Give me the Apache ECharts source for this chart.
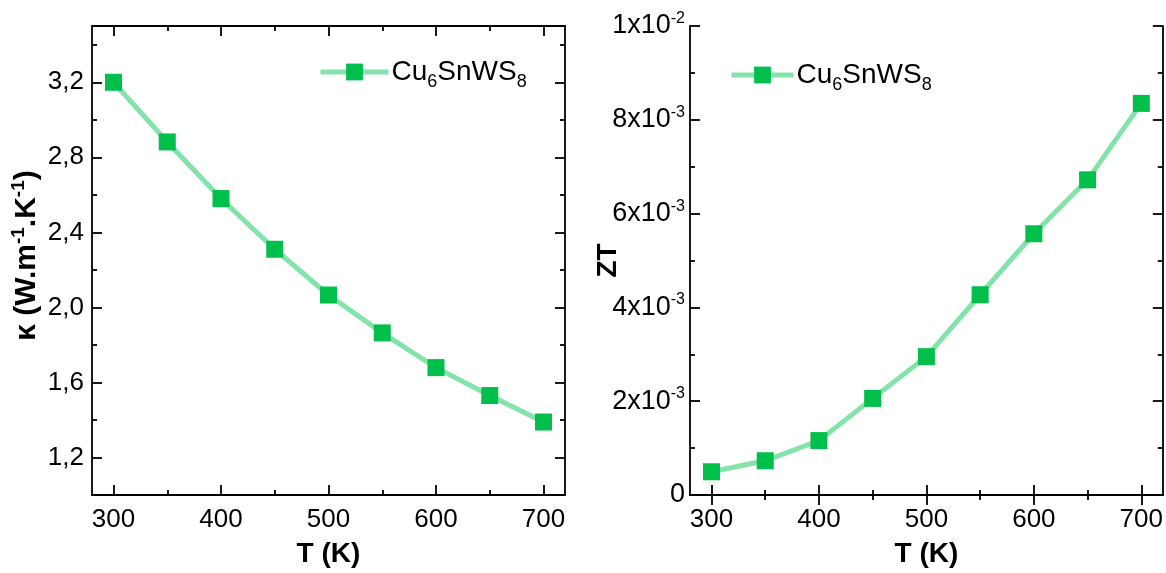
<!DOCTYPE html>
<html>
<head>
<meta charset="utf-8">
<script src="https://cdn.jsdelivr.net/npm/echarts@6/dist/echarts.min.js"></script>
<style>html,body{margin:0;padding:0;background:#fff}#c{width:1166px;height:573px}</style>
</head>
<body>
<div id="c"></div>
<script>
// ---- data ----
const temperatures = [300, 350, 400, 450, 500, 550, 600, 650, 700];
const kappaValues = [3.20, 2.882, 2.58, 2.31, 2.066, 1.864, 1.679, 1.530, 1.389];
const ztValues = [0.000495, 0.00073, 0.00116, 0.00206, 0.00295, 0.00427, 0.00557, 0.00672, 0.00835];
const seriesName = 'Cu6SnWS8';
const xMajorTicks = [300, 400, 500, 600, 700];
const xMinorTicks = [350, 450, 550, 650];
const kappaMajorTicks = [1.2, 1.6, 2.0, 2.4, 2.8, 3.2];
const kappaMinorTicks = [1.4, 1.8, 2.2, 2.6, 3.0, 3.4];
const ztMajorTicks = [0, 0.002, 0.004, 0.006, 0.008, 0.01];
const ztMinorTicks = [0.001, 0.003, 0.005, 0.007, 0.009];

const FONT = '"Liberation Sans", Arial, sans-serif';
const markerColor = '#00bf4b';
const lineColor = '#84e3aa';
const frameW = 1.8;
const TICK_FS = 26;

function fmtKappa(v) { return v.toFixed(1).replace('.', ','); }
function fmtZT(v) {
  if (Math.abs(v) < 1e-12) return '{n|0}';
  const e = Math.floor(Math.log10(v) + 1e-9);
  const m = Math.round(v / Math.pow(10, e));
  return '{n|' + m + 'x10}{sup|' + e + '}';
}

const labelRich = {
  n: { fontFamily: FONT, fontSize: 27, color: '#000' },
  sup: { fontFamily: FONT, fontSize: 16, color: '#000', padding: [0, 0, 15, 0] }
};

function xAxes(grid) {
  const base = { type: 'value', gridIndex: grid, min: 280, max: 720, splitLine: { show: false } };
  return [
    Object.assign({}, base, {
      position: 'bottom',
      axisLine: { show: true, lineStyle: { color: '#000', width: frameW } },
      axisTick: { show: true, inside: true, length: 10, customValues: xMajorTicks, lineStyle: { color: '#000', width: frameW } },
      axisLabel: { show: true, customValues: xMajorTicks, margin: 12, fontFamily: FONT, fontSize: TICK_FS, color: '#000' },
      name: 'T (K)', nameLocation: 'middle', nameGap: 45,
      nameTextStyle: { fontFamily: FONT, fontSize: 28, fontWeight: 'bold', color: '#000' }
    }),
    Object.assign({}, base, {
      position: 'bottom',
      axisLine: { show: false },
      axisTick: { show: true, inside: true, length: 5, customValues: xMinorTicks, lineStyle: { color: '#000', width: frameW } },
      axisLabel: { show: false }
    }),
    Object.assign({}, base, {
      position: 'top',
      axisLine: { show: true, lineStyle: { color: '#000', width: frameW } },
      axisTick: { show: true, inside: true, length: 10, customValues: xMajorTicks, lineStyle: { color: '#000', width: frameW } },
      axisLabel: { show: false }
    }),
    Object.assign({}, base, {
      position: 'top',
      axisLine: { show: false },
      axisTick: { show: true, inside: true, length: 5, customValues: xMinorTicks, lineStyle: { color: '#000', width: frameW } },
      axisLabel: { show: false }
    })
  ];
}

function yAxes(grid, min, max, major, minor, labelCfg, nameCfg) {
  const base = { type: 'value', gridIndex: grid, min: min, max: max, splitLine: { show: false } };
  return [
    Object.assign({}, base, {
      position: 'left',
      axisLine: { show: true, lineStyle: { color: '#000', width: frameW } },
      axisTick: { show: true, inside: true, length: 10, customValues: major, lineStyle: { color: '#000', width: frameW } },
      axisLabel: Object.assign({ show: true, customValues: major }, labelCfg)
    }, nameCfg),
    Object.assign({}, base, {
      position: 'left',
      axisLine: { show: false },
      axisTick: { show: true, inside: true, length: 5, customValues: minor, lineStyle: { color: '#000', width: frameW } },
      axisLabel: { show: false }
    }),
    Object.assign({}, base, {
      position: 'right',
      axisLine: { show: true, lineStyle: { color: '#000', width: frameW } },
      axisTick: { show: true, inside: true, length: 10, customValues: major, lineStyle: { color: '#000', width: frameW } },
      axisLabel: { show: false }
    }),
    Object.assign({}, base, {
      position: 'right',
      axisLine: { show: false },
      axisTick: { show: true, inside: true, length: 5, customValues: minor, lineStyle: { color: '#000', width: frameW } },
      axisLabel: { show: false }
    })
  ];
}

const legendRich = {
  a: { fontFamily: FONT, fontSize: 28, color: '#000' },
  s: { fontFamily: FONT, fontSize: 18, color: '#000', padding: [20, 0, 0, 0] }
};
function legendFmt(name) { return '{a|Cu}{s|6}{a|SnWS}{s|8}'; }

const chart = echarts.init(document.getElementById('c'), null, { renderer: 'canvas' });
const option = {
  animation: false,
  backgroundColor: '#fff',
  grid: [
    { left: 92, right: 601, top: 26, bottom: 77, containLabel: false },
    { left: 690, right: 3, top: 26, bottom: 77, containLabel: false }
  ],
  legend: [
    { left: 313, top: 53, itemWidth: 68, itemHeight: 21, itemGap: 0, data: [seriesName], formatter: legendFmt,
      lineStyle: { width: 5 }, textStyle: { rich: legendRich, padding: [0, 0, 0, -2] }, selectedMode: false },
    { left: 724, top: 56, itemWidth: 62, itemHeight: 21, itemGap: 0, data: [seriesName], formatter: legendFmt,
      lineStyle: { width: 5 }, textStyle: { rich: legendRich, padding: [0, 0, 0, -2] }, selectedMode: false }
  ],
  xAxis: xAxes(0).concat(xAxes(1)),
  yAxis: yAxes(0, 1.0, 3.5, kappaMajorTicks, kappaMinorTicks,
      { margin: 8, fontFamily: FONT, fontSize: TICK_FS, color: '#000', formatter: fmtKappa },
      { name: '{b|κ (W.m}{sp|-1}{b|.K}{sp|-1}{b|)}', nameLocation: 'middle', nameGap: 48,
        nameTextStyle: { padding: [0, 0, 0, 10], rich: {
          b: { fontFamily: FONT, fontSize: 30, fontWeight: 'bold', color: '#000' },
          sp: { fontFamily: FONT, fontSize: 19, fontWeight: 'bold', color: '#000', padding: [0, 0, 16, 0] }
        } } })
    .concat(yAxes(1, 0, 0.01, ztMajorTicks, ztMinorTicks,
      { margin: 5, formatter: fmtZT, rich: labelRich },
      { name: 'ZT', nameLocation: 'middle', nameGap: 68, nameMoveOverlap: false,
        nameTextStyle: { fontFamily: FONT, fontSize: 28, fontWeight: 'bold', color: '#000' } })),
  series: [
    { name: seriesName, type: 'line', xAxisIndex: 0, yAxisIndex: 0,
      data: temperatures.map((t, i) => [t, kappaValues[i]]),
      symbol: 'rect', symbolSize: 17,
      itemStyle: { color: markerColor },
      lineStyle: { color: lineColor, width: 5 } },
    { name: seriesName, type: 'line', xAxisIndex: 4, yAxisIndex: 4,
      data: temperatures.map((t, i) => [t, ztValues[i]]),
      symbol: 'rect', symbolSize: 17,
      itemStyle: { color: markerColor },
      lineStyle: { color: lineColor, width: 5 } }
  ]
};
chart.setOption(option);
</script>
</body>
</html>
